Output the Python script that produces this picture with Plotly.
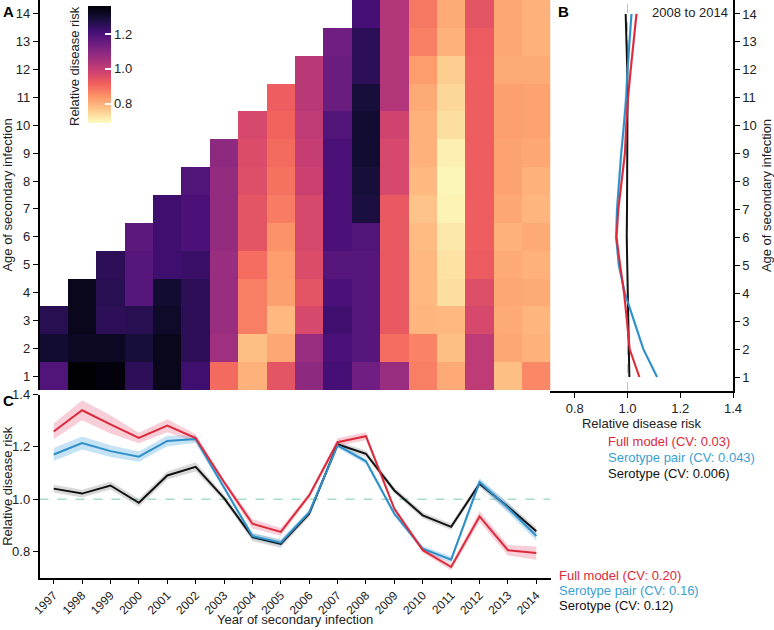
import plotly.graph_objects as go

W, H = 774, 630
def fx(px): return px / W
def fy(py): return 1 - py / H

years = list(range(1997, 2015))
year_labels = [str(y) for y in years]
ages = list(range(1, 15))

# Panel A: relative disease risk by year (columns, from age 1 upward)
h1997 = [1.19, 1.30, 1.26]
h1998 = [1.36, 1.32, 1.33, 1.33]
h1999 = [1.35, 1.32, 1.25, 1.26, 1.25]
h2000 = [1.25, 1.29, 1.26, 1.18, 1.18, 1.17]
h2001 = [1.33, 1.33, 1.31, 1.30, 1.22, 1.22, 1.22]
h2002 = [1.22, 1.25, 1.25, 1.25, 1.23, 1.20, 1.20, 1.19]
h2003 = [0.90, 1.06, 1.07, 1.07, 1.07, 1.08, 1.08, 1.08, 1.09]
h2004 = [0.80, 0.78, 0.87, 0.87, 0.895, 0.94, 0.94, 0.955, 0.96, 0.97]
h2005 = [0.94, 0.815, 0.79, 0.825, 0.83, 0.845, 0.875, 0.89, 0.90, 0.91, 0.92]
h2006 = [1.09, 1.07, 0.97, 0.94, 0.96, 0.97, 0.97, 0.99, 1.0, 1.01, 1.02, 1.02]
h2007 = [1.21, 1.20, 1.22, 1.20, 1.18, 1.20, 1.20, 1.20, 1.20, 1.19, 1.15, 1.15, 1.14]
h2008 = [1.14, 1.18, 1.18, 1.18, 1.18, 1.19, 1.28, 1.29, 1.30, 1.30, 1.29, 1.25, 1.25, 1.21]
h2009 = [1.07, 0.895, 0.93, 0.93, 0.93, 0.93, 0.93, 0.97, 0.97, 0.98, 1.03, 1.03, 1.03, 1.03]
h2010 = [0.87, 0.865, 0.795, 0.79, 0.79, 0.785, 0.775, 0.79, 0.80, 0.80, 0.81, 0.83, 0.87, 0.88]
h2011 = [0.81, 0.78, 0.79, 0.735, 0.73, 0.72, 0.705, 0.70, 0.71, 0.735, 0.745, 0.76, 0.80, 0.81]
h2012 = [1.01, 1.01, 0.97, 0.955, 0.925, 0.92, 0.92, 0.92, 0.92, 0.92, 0.92, 0.92, 0.925, 0.94]
h2013 = [0.78, 0.815, 0.81, 0.815, 0.81, 0.80, 0.815, 0.82, 0.82, 0.825, 0.825, 0.81, 0.815, 0.815]
h2014 = [0.86, 0.80, 0.795, 0.81, 0.80, 0.81, 0.795, 0.80, 0.815, 0.82, 0.82, 0.81, 0.80, 0.80]
heat_cols = [h1997, h1998, h1999, h2000, h2001, h2002, h2003, h2004, h2005,
             h2006, h2007, h2008, h2009, h2010, h2011, h2012, h2013, h2014]

z = []
for ai in range(len(ages)):
    row = []
    for col in heat_cols:
        row.append(col[ai] if ai < len(col) else None)
    z.append(row)

# Panel C: yearly relative disease risk
full = [1.259, 1.340, 1.286, 1.234, 1.281, 1.234, 1.066, 0.907, 0.876, 1.015, 1.218, 1.241, 0.964, 0.806, 0.742, 0.935, 0.806, 0.795]
pair = [1.171, 1.215, 1.184, 1.163, 1.223, 1.230, 1.045, 0.860, 0.835, 0.950, 1.206, 1.145, 0.945, 0.812, 0.770, 1.066, 0.968, 0.860]
sero = [1.041, 1.022, 1.053, 0.987, 1.091, 1.124, 1.005, 0.856, 0.830, 0.945, 1.210, 1.174, 1.034, 0.939, 0.895, 1.060, 0.972, 0.878]
full_hw = [0.030, 0.038, 0.035, 0.020, 0.025, 0.015, 0.010, 0.018, 0.015, 0.010, 0.015, 0.015, 0.010, 0.010, 0.012, 0.020, 0.020, 0.025]
pair_hw = [0.025, 0.025, 0.022, 0.020, 0.020, 0.015, 0.010, 0.012, 0.012, 0.010, 0.010, 0.010, 0.010, 0.010, 0.012, 0.015, 0.018, 0.018]
sero_hw = [0.015, 0.015, 0.015, 0.015, 0.015, 0.018, 0.012, 0.015, 0.015, 0.012, 0.012, 0.012, 0.012, 0.012, 0.012, 0.012, 0.015, 0.015]

# Panel B: relative disease risk by age (2008 to 2014)
b_full = [1.045, 1.008, 0.998, 0.987, 0.972, 0.958, 0.965, 0.978, 0.990, 0.995, 1.002, 1.012, 1.022, 1.034]
b_pair = [1.112, 1.060, 1.025, 0.990, 0.967, 0.957, 0.960, 0.967, 0.976, 0.986, 0.995, 1.000, 1.008, 1.015]
b_sero = [1.007, 1.005, 1.003, 1.000, 0.998, 0.997, 0.998, 0.999, 1.000, 1.000, 1.000, 0.999, 0.996, 0.993]
b_hw = [0.005, 0.005, 0.005, 0.005, 0.005, 0.005, 0.005, 0.005, 0.005, 0.005, 0.005, 0.005, 0.005, 0.005]

cbar_ticks = [0.8, 1.0, 1.2]
ZMIN, ZMAX = 0.69, 1.36

RED = "#dc2a3a"
BLUE = "#2f8fc8"
BLACK = "#111111"
FONT = "Liberation Sans, Arial, sans-serif"

fig = go.Figure()

CB_TOP, CB_LEN, CB_X, CB_W = 6, 117, 88, 23
fig.add_trace(go.Heatmap(
    x=years, y=ages, z=z, zmin=ZMIN, zmax=ZMAX,
    colorscale="Magma", reversescale=True, hoverongaps=False,
    xaxis="x", yaxis="y",
    colorbar=dict(
        x=fx(CB_X), xanchor="left", xpad=0, thickness=CB_W,
        len=CB_LEN, lenmode="pixels", y=fy(CB_TOP + CB_LEN / 2), yanchor="middle", ypad=0,
        tickvals=cbar_ticks, ticktext=["%.1f" % t for t in cbar_ticks],
        ticks="inside", ticklen=6, tickcolor="white", tickwidth=1.5,
        outlinewidth=0, tickfont=dict(size=13, color="#222", family=FONT),
    ),
))

def band(xs, ys, hw, color, xa, ya):
    lo = [v - h for v, h in zip(ys, hw)]
    hi = [v + h for v, h in zip(ys, hw)]
    return go.Scatter(x=list(xs) + list(xs)[::-1], y=hi + lo[::-1], fill="toself",
                      fillcolor=color, line=dict(width=0), mode="lines",
                      hoverinfo="skip", xaxis=xa, yaxis=ya, showlegend=False)

def hband(vals, ys, hw, color, xa, ya):
    lo = [v - h for v, h in zip(vals, hw)]
    hi = [v + h for v, h in zip(vals, hw)]
    return go.Scatter(x=hi + lo[::-1], y=list(ys) + list(ys)[::-1], fill="toself",
                      fillcolor=color, line=dict(width=0), mode="lines",
                      hoverinfo="skip", xaxis=xa, yaxis=ya, showlegend=False)

# Panel C bands and lines
fig.add_trace(band(years, sero, sero_hw, "rgba(130,130,130,0.30)", "x2", "y2"))
fig.add_trace(band(years, pair, pair_hw, "rgba(90,175,225,0.35)", "x2", "y2"))
fig.add_trace(band(years, full, full_hw, "rgba(235,110,140,0.33)", "x2", "y2"))
fig.add_trace(go.Scatter(x=years, y=sero, mode="lines", line=dict(color=BLACK, width=2), xaxis="x2", yaxis="y2", showlegend=False))
fig.add_trace(go.Scatter(x=years, y=pair, mode="lines", line=dict(color=BLUE, width=2), xaxis="x2", yaxis="y2", showlegend=False))
fig.add_trace(go.Scatter(x=years, y=full, mode="lines", line=dict(color=RED, width=2), xaxis="x2", yaxis="y2", showlegend=False))

# Panel B
fig.add_trace(hband(b_full, ages, b_hw, "rgba(235,110,140,0.30)", "x3", "y3"))
fig.add_trace(hband(b_pair, ages, b_hw, "rgba(90,175,225,0.30)", "x3", "y3"))
fig.add_trace(go.Scatter(x=b_sero, y=ages, mode="lines", line=dict(color=BLACK, width=2), xaxis="x3", yaxis="y3", showlegend=False))
fig.add_trace(go.Scatter(x=b_pair, y=ages, mode="lines", line=dict(color=BLUE, width=2), xaxis="x3", yaxis="y3", showlegend=False))
fig.add_trace(go.Scatter(x=b_full, y=ages, mode="lines", line=dict(color=RED, width=2), xaxis="x3", yaxis="y3", showlegend=False))

axis_common = dict(showline=True, linecolor="black", linewidth=1.5, ticks="outside",
                   ticklen=5, tickwidth=1.2, tickcolor="black", showgrid=False,
                   zeroline=False, automargin=False,
                   tickfont=dict(size=13, color="#222", family=FONT))
xaxis2_common = dict(axis_common)
xaxis2_common.update(ticklen=4, tickfont=dict(size=12, color="#222", family=FONT))

fig.update_layout(
    width=W, height=H, template="none",
    margin=dict(l=0, r=0, t=0, b=0),
    paper_bgcolor="white", plot_bgcolor="rgba(0,0,0,0)",
    font=dict(family=FONT, size=13, color="#222"),
    showlegend=False,
    xaxis=dict(domain=[fx(39.5), fx(550.5)], range=[1996.5, 2014.5], visible=False,
               anchor="y", automargin=False),
    yaxis=dict(domain=[fy(390), fy(0)], range=[0.5, 14.5], anchor="x",
               tickvals=ages, ticktext=[str(a) for a in ages],
               title=dict(text="Age of secondary infection", font=dict(size=13), standoff=6),
               **axis_common),
    xaxis2=dict(domain=[fx(39.5), fx(550.5)], range=[1996.5, 2014.5], anchor="y2",
                tickvals=years, ticktext=year_labels, tickangle=-45,
                **xaxis2_common),
    yaxis2=dict(domain=[fy(578), fy(394.5)], range=[0.70, 1.40], anchor="x2",
                tickvals=[0.8, 1.0, 1.2, 1.4], ticktext=["0.8", "1.0", "1.2", "1.4"],
                title=dict(text="Relative disease risk", font=dict(size=13), standoff=6),
                **axis_common),
    xaxis3=dict(domain=[fx(550), fx(733)], range=[0.706, 1.4], anchor="y3",
                tickvals=[0.8, 1.0, 1.2, 1.4], ticktext=["0.8", "1.0", "1.2", "1.4"],
                title=dict(text="Relative disease risk", font=dict(size=13), standoff=2),
                **axis_common),
    yaxis3=dict(domain=[fy(391), fy(0)], range=[0.5, 14.5], anchor="x3", side="right",
                tickvals=ages, ticktext=[str(a) for a in ages],
                title=dict(text="Age of secondary infection", font=dict(size=13), standoff=6),
                **axis_common),
)

fig.add_shape(type="line", xref="x2", yref="y2", x0=1996.5, x1=2014.5, y0=1.0, y1=1.0,
              line=dict(color="#a6dcc8", width=1.5, dash="dash"), layer="below")
fig.add_shape(type="line", xref="x3", yref="y3", x0=1.0, x1=1.0, y0=0.5, y1=14.5,
              line=dict(color="#9fd9b0", width=1, dash="dash"), layer="below")
# white tick dashes on the left edge of the colour bar
for t in cbar_ticks:
    ty = CB_TOP + (ZMAX - t) / (ZMAX - ZMIN) * CB_LEN
    fig.add_shape(type="line", xref="paper", yref="paper", x0=fx(CB_X), x1=fx(CB_X + 6),
                  y0=fy(ty), y1=fy(ty), line=dict(color="white", width=1.5))

ann = []
def A(text, x, y, size=13, color="#222", xanchor="left", bold=False, angle=0):
    ann.append(dict(text=("<b>%s</b>" % text) if bold else text, x=x, y=y, xref="paper", yref="paper",
                    showarrow=False, xanchor=xanchor, yanchor="middle", textangle=angle,
                    font=dict(size=size, color=color, family=FONT)))

A("A", fx(1), fy(11), size=15, bold=True, color="black")
A("B", fx(556), fy(11), size=15, bold=True, color="black")
A("C", fx(1), fy(400), size=15, bold=True, color="black")
A("Relative disease risk", fx(75), fy(66), size=13, xanchor="center", angle=-90)
A("2008 to 2014", fx(690), fy(12), size=13, xanchor="center")
A("Year of secondary infection", fx(295), fy(619), size=13, xanchor="center")
A("Full model (CV: 0.03)", fx(606), fy(442), color=RED)
A("Serotype pair (CV: 0.043)", fx(606), fy(457), color="#3a9fd3")
A("Serotype (CV: 0.006)", fx(606), fy(473), color="#111")
A("Full model (CV: 0.20)", fx(557), fy(575), color=RED)
A("Serotype pair (CV: 0.16)", fx(557), fy(590), color="#3a9fd3")
A("Serotype (CV: 0.12)", fx(557), fy(605), color="#111")
fig.update_layout(annotations=ann)

fig.write_html("out.html", config={"displayModeBar": False},
               post_script="document.body.style.margin='0';document.body.style.padding='0';")
